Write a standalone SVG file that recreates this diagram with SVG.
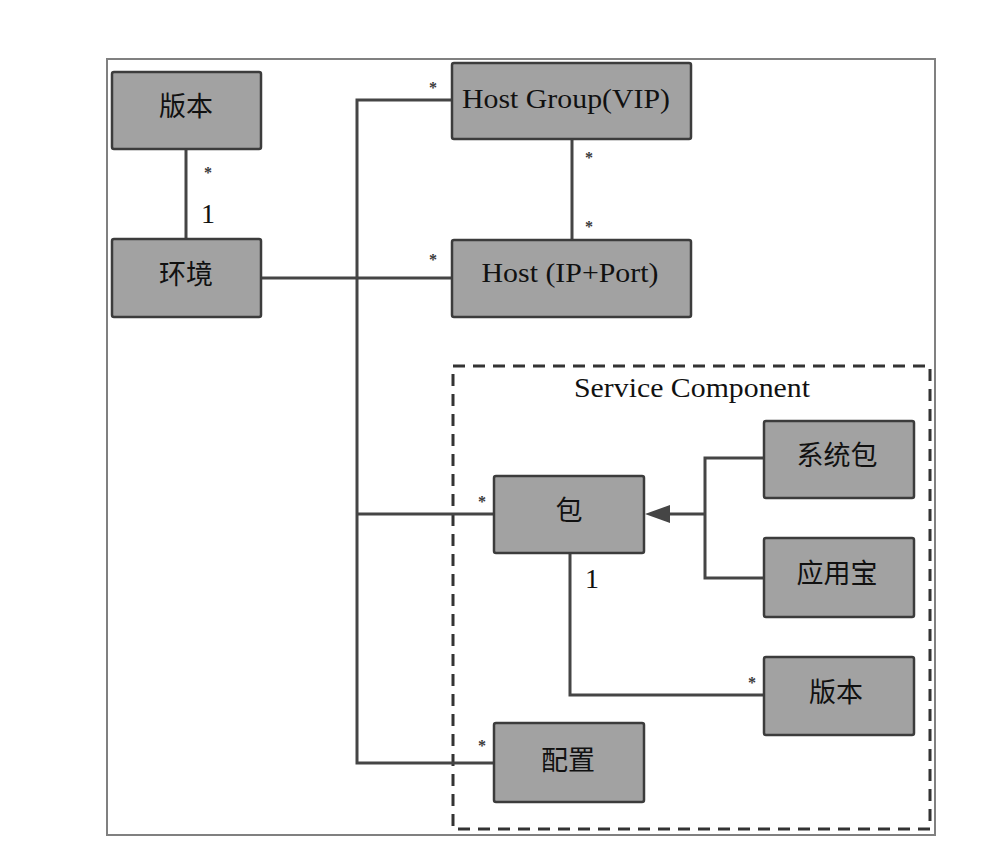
<svg xmlns="http://www.w3.org/2000/svg" width="990" height="856" viewBox="0 0 990 856">
<style>
.box{fill:#a2a2a2;stroke:#3c3c3c;stroke-width:2.5}
.lbl{font-family:"Liberation Serif","Noto Sans CJK SC",serif;font-size:28px;fill:#111;text-anchor:middle}
.cjk{font-family:"Noto Sans CJK SC","Liberation Serif",sans-serif;font-size:27px;fill:#111;text-anchor:middle}
.ast{font-family:"Liberation Serif",serif;font-size:16px;font-weight:bold;fill:#3a3a3a;text-anchor:middle}
.ln{fill:none;stroke:#454545;stroke-width:3}
</style>
<rect width="990" height="856" fill="#fff"/>
<rect x="107" y="59" width="828" height="776" fill="none" stroke="#808080" stroke-width="2"/>
<rect id="service-component" x="453" y="366" width="477" height="463" fill="none" stroke="#333" stroke-width="3" stroke-dasharray="12 8"/>
<text class="lbl" x="692" y="397" textLength="236" lengthAdjust="spacingAndGlyphs">Service Component</text>
<g id="connectors">
<path class="ln" d="M186,149 V239"/>
<path class="ln" d="M261,278 H452"/>
<path class="ln" d="M452,100 H357 V763 H494"/>
<path class="ln" d="M357,514 H494"/>
<path class="ln" d="M572,139 V240"/>
<path class="ln" d="M764,458 H705 V578 H764"/>
<path class="ln" d="M705,514 H670"/>
<path d="M645,514 L670,505 L670,523 z" fill="#454545"/>
<path class="ln" d="M570,553 V695 H764"/>
<text class="ast" x="208" y="178">*</text>
<text class="lbl" x="208" y="223">1</text>
<text class="ast" x="433" y="93">*</text>
<text class="ast" x="433" y="265">*</text>
<text class="ast" x="589" y="163">*</text>
<text class="ast" x="589" y="232">*</text>
<text class="ast" x="482" y="507">*</text>
<text class="lbl" x="592" y="588">1</text>
<text class="ast" x="752" y="688">*</text>
<text class="ast" x="482" y="751">*</text>
</g>
<g id="node-banben"><rect class="box" x="112" y="72" width="149" height="77" rx="2"/><text class="cjk" x="186" y="116">版本</text></g>
<g id="node-huanjing"><rect class="box" x="112" y="239" width="149" height="78" rx="2"/><text class="cjk" x="186" y="284">环境</text></g>
<g id="node-hostgroup"><rect class="box" x="452" y="63" width="239" height="76" rx="2"/><text class="lbl" x="566" y="108" textLength="208" lengthAdjust="spacingAndGlyphs">Host Group(VIP)</text></g>
<g id="node-host"><rect class="box" x="452" y="240" width="239" height="77" rx="2"/><text class="lbl" x="570" y="282" textLength="177" lengthAdjust="spacingAndGlyphs">Host (IP+Port)</text></g>
<g id="node-bao"><rect class="box" x="494" y="476" width="150" height="77" rx="2"/><text class="cjk" x="569" y="520">包</text></g>
<g id="node-xitongbao"><rect class="box" x="764" y="421" width="150" height="77" rx="2"/><text class="cjk" x="837" y="465">系统包</text></g>
<g id="node-yingyongbao"><rect class="box" x="764" y="538" width="150" height="79" rx="2"/><text class="cjk" x="837" y="583">应用宝</text></g>
<g id="node-banben2"><rect class="box" x="764" y="657" width="150" height="78" rx="2"/><text class="cjk" x="836" y="702">版本</text></g>
<g id="node-peizhi"><rect class="box" x="494" y="723" width="150" height="79" rx="2"/><text class="cjk" x="568" y="770">配置</text></g>
</svg>
